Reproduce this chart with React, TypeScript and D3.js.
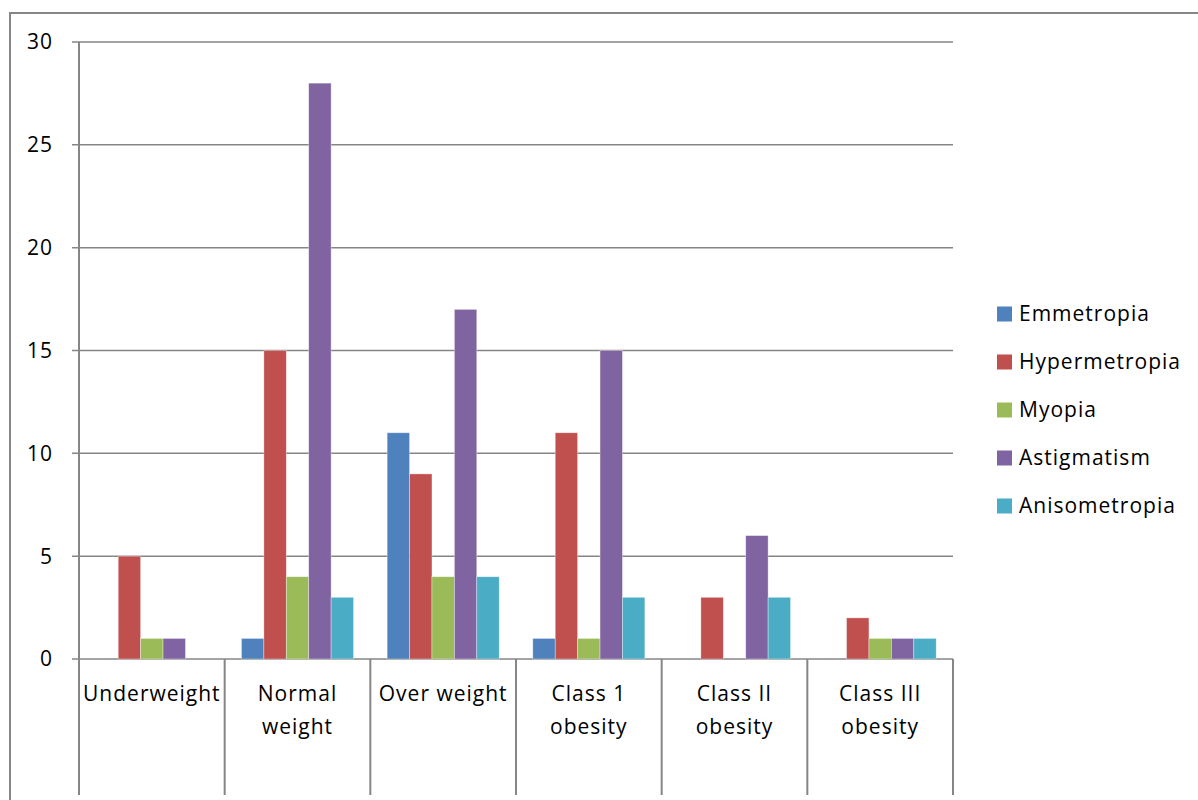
import React from "react";
import * as d3 from "d3";

const categories = [["Underweight"], ["Normal", "weight"], ["Over weight"], ["Class 1", "obesity"], ["Class II", "obesity"], ["Class III", "obesity"]];
const seriesNames = ["Emmetropia", "Hypermetropia", "Myopia", "Astigmatism", "Anisometropia"];
const emmetropia = [0, 1, 11, 1, 0, 0];
const hypermetropia = [5, 15, 9, 11, 3, 2];
const myopia = [1, 4, 4, 1, 0, 1];
const astigmatism = [1, 28, 17, 15, 6, 1];
const anisometropia = [0, 3, 4, 3, 3, 1];
const yTicks = [0, 5, 10, 15, 20, 25, 30];
const colors = ["#4F81BD", "#C0504D", "#9BBB59", "#8064A2", "#4BACC6"];

const seriesValues = [emmetropia, hypermetropia, myopia, astigmatism, anisometropia];

export default function App() {
  const W = 1198, H = 800;
  const left = 79, right = 953, top = 42, bottom = 659;
  const font = "'Open Sans', sans-serif";
  const x0 = d3.scaleBand<number>().domain(d3.range(categories.length)).range([left, right]).paddingInner(0).paddingOuter(0);
  const bw = x0.bandwidth();
  const barW = bw / (seriesNames.length + 1.5);
  const y = d3.scaleLinear().domain([0, 30]).range([bottom, top]);
  const grid = "#868686";
  const fs = 21;
  const ls = 1;
  return (
    <svg width={W} height={H} style={{ position: "absolute", left: 0, top: 0, background: "#fff" }} fontFamily={font}>
      <rect x={10} y={13} width={W} height={H} fill="#fff" stroke={grid} strokeWidth={2} />
      {yTicks.map((t) => (
        <g key={t}>
          <line x1={72} x2={right} y1={y(t)} y2={y(t)} stroke={grid} strokeWidth={1.5} />
          <text x={53} y={y(t)} dy="0.35em" textAnchor="end" fontSize={fs} letterSpacing={ls} fill="#000">{t}</text>
        </g>
      ))}
      {seriesValues.map((vals, s) =>
        vals.map((v, i) =>
          v > 0 ? (
            <rect key={`${s}-${i}`} x={(x0(i) as number) + barW * 0.75 + s * barW} y={y(v)} width={barW} height={y(0) - y(v)} fill={colors[s]} stroke="rgba(255,255,255,0.5)" strokeWidth={0.7} />
          ) : null
        )
      )}
      <line x1={left} x2={left} y1={top} y2={795} stroke={grid} strokeWidth={2} />
      {categories.map((c, i) => (
        <line key={i} x1={(x0(i) as number) + bw} x2={(x0(i) as number) + bw} y1={bottom} y2={795} stroke={grid} strokeWidth={2} />
      ))}
      {categories.map((lines, i) => (
        <text key={i} textAnchor="middle" fontSize={fs} letterSpacing={ls} fill="#000">
          {lines.map((l, k) => (
            <tspan key={k} x={(x0(i) as number) + bw / 2} y={694 + k * 33} dy="0.35em">{l}</tspan>
          ))}
        </text>
      ))}
      {seriesNames.map((n, s) => (
        <g key={n} transform={`translate(997, ${314 + s * 48})`}>
          <rect x={0} y={-7.5} width={15} height={15} fill={colors[s]} />
          <text x={22} y={0} dy="0.35em" fontSize={fs} letterSpacing={ls} fill="#000">{n}</text>
        </g>
      ))}
    </svg>
  );
}
